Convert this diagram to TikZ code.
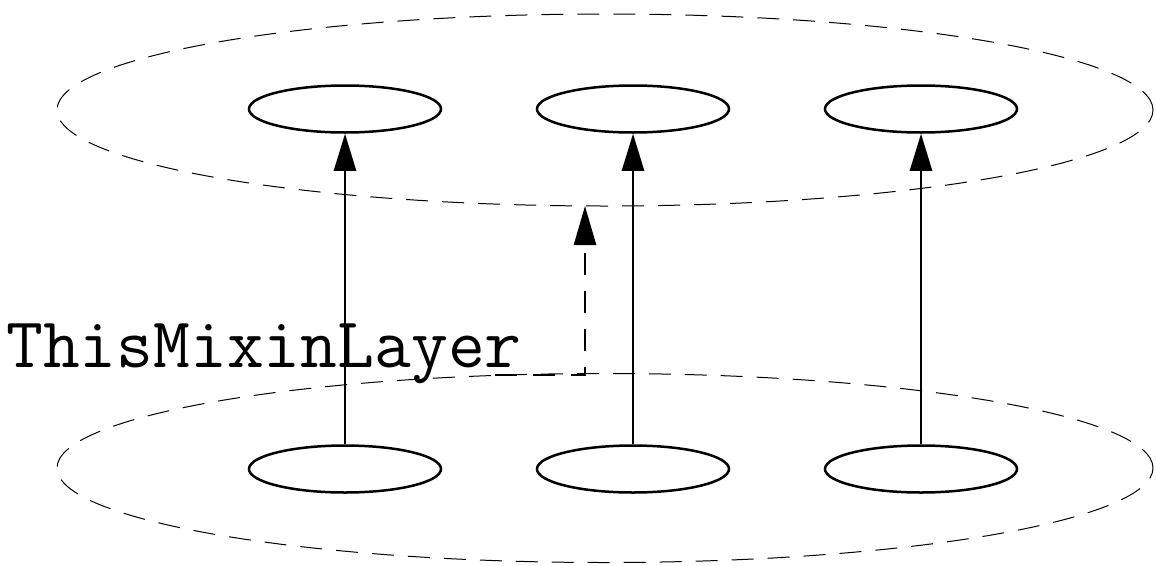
\documentclass[tikz,border=0pt]{standalone}
\usetikzlibrary{shapes.geometric,arrows.meta}
\begin{document}
\begin{tikzpicture}[x=1pt,y=-1pt,
  layer/.style={ellipse,draw,dash pattern=on 22pt off 14pt,line width=1pt,
                minimum width=1096pt,minimum height=192pt,inner sep=0pt},
  mixin/.style={ellipse,draw,line width=2.5pt,minimum width=192pt,
                minimum height=47pt,inner sep=0pt},
  link/.style={line width=2.5pt,-{Triangle[length=37pt,width=22pt]}},
  hint/.style={line width=2.5pt,dash pattern=on 22pt off 16pt,
               -{Triangle[length=39pt,width=22pt]}}]
  \useasboundingbox (0,0) rectangle (1156,565);

  % the two layers
  \node[layer] (upper) at (605,110) {};
  \node[layer,minimum height=189pt] (lower) at (605,468) {};

  % mixins in each layer
  \node[mixin] (t1) at (345,109) {};
  \node[mixin] (t2) at (633,109) {};
  \node[mixin] (t3) at (921,109) {};
  \node[mixin] (b1) at (345,469) {};
  \node[mixin] (b2) at (633,469) {};
  \node[mixin] (b3) at (921,469) {};

  % refinement links
  \draw[link] (b1) -- (t1);
  \draw[link] (b2) -- (t2);
  \draw[link] (b3) -- (t3);

  % label and its pointer to the upper layer
  \node[anchor=base west,inner sep=0pt,font=\ttfamily\fontsize{71.5}{82}\selectfont]
    (lbl) at (6,367) {ThisMixinLayer};
  \coordinate (start) at (495,375);
  \coordinate (bend) at (585,375);
  \coordinate (tip) at (585,206);
  \draw[hint] (start) -- (bend) -- (tip);
\end{tikzpicture}
\end{document}
